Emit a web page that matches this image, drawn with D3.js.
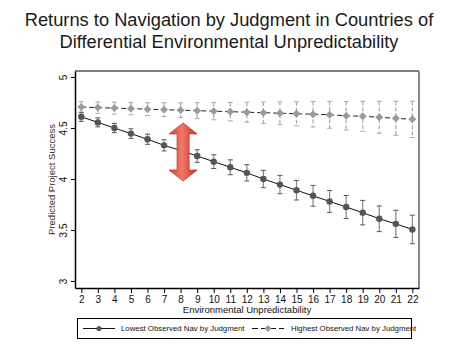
<!DOCTYPE html>
<html>
<head>
<meta charset="utf-8">
<script src="https://cdn.jsdelivr.net/npm/d3@7"></script>
<style>
  body { margin: 0; background: #fff; }
  text { font-family: "Liberation Sans", Arial, sans-serif; }
</style>
</head>
<body>
<svg id="chart"></svg>
<script>
// data
var unpredictability = [2,3,4,5,6,7,8,9,10,11,12,13,14,15,16,17,18,19,20,21,22];
var lowestNav  = [4.61,4.555,4.50,4.445,4.39,4.33,4.28,4.225,4.17,4.115,4.06,4.00,3.945,3.89,3.835,3.78,3.725,3.67,3.61,3.56,3.505];
var lowestErr  = [0.045,0.044,0.045,0.047,0.05,0.055,0.058,0.062,0.067,0.073,0.08,0.085,0.09,0.096,0.102,0.107,0.113,0.12,0.126,0.133,0.14];
var highestNav = [4.705,4.70,4.695,4.69,4.685,4.68,4.675,4.67,4.665,4.66,4.655,4.65,4.645,4.64,4.635,4.63,4.62,4.615,4.605,4.595,4.585];
var highestErr = [0.054,0.056,0.058,0.06,0.063,0.068,0.072,0.078,0.084,0.09,0.098,0.105,0.112,0.118,0.125,0.132,0.14,0.148,0.157,0.167,0.178];
var yTicks = [3, 3.5, 4, 4.5, 5];
var titleLines = ["Returns to Navigation by Judgment in Countries of", "Differential Environmental Unpredictability"];
var legendLabels = ["Lowest Observed Nav by Judgment", "Highest Observed Nav by Judgment"];
// red arrow position, in data units
var arrowAt = {x: 8.15, top: 4.55, bottom: 3.98};

var width = 460, height = 352;
var margin = {top: 71, right: 41, bottom: 64, left: 75};

var svg = d3.select("#chart")
    .attr("width", width)
    .attr("height", height);

var rows = unpredictability.map(function(u, i) {
  return {u: u, lo: lowestNav[i], loE: lowestErr[i], hi: highestNav[i], hiE: highestErr[i]};
});

var x = d3.scaleLinear().domain([1.62, 22.4]).range([margin.left, width - margin.right]);
var y = d3.scaleLinear().domain([2.931, 5.059]).range([height - margin.bottom, margin.top]);

// title
svg.append("g").selectAll("text")
    .data(titleLines)
    .enter().append("text")
    .attr("x", 229)
    .attr("y", function(d, i) { return 26 + i * 22.3; })
    .attr("text-anchor", "middle")
    .style("font-size", "18.3px")
    .style("font-weight", "300")
    .attr("fill", "#1a1a1a")
    .text(function(d) { return d; });

// plot frame: top and right
svg.append("line")
    .attr("x1", margin.left).attr("x2", width - margin.right)
    .attr("y1", margin.top).attr("y2", margin.top)
    .attr("stroke", "#000").attr("stroke-width", 1);
svg.append("line")
    .attr("x1", width - margin.right).attr("x2", width - margin.right)
    .attr("y1", margin.top).attr("y2", height - margin.bottom)
    .attr("stroke", "#888").attr("stroke-width", 2);

// axes
var xAxis = svg.append("g")
    .attr("transform", "translate(0," + (height - margin.bottom) + ")")
    .call(d3.axisBottom(x).tickValues(unpredictability).tickSize(5).tickSizeOuter(0).tickPadding(3));
xAxis.select(".domain").attr("stroke-width", 1.5);
xAxis.selectAll("text").style("font-size", "10px").attr("fill", "#111");

var yAxis = svg.append("g")
    .attr("transform", "translate(" + margin.left + ",0)")
    .call(d3.axisLeft(y).tickValues(yTicks).tickFormat(d3.format("")).tickSize(4).tickSizeOuter(0));
yAxis.select(".domain").attr("stroke-width", 1.5);
yAxis.selectAll(".tick text")
    .attr("x", 0).attr("dy", null)
    .attr("transform", "translate(-8,0) rotate(-90)")
    .attr("text-anchor", "middle")
    .style("font-size", "10px")
    .attr("fill", "#111");

// axis titles
svg.append("text")
    .attr("x", (margin.left + width - margin.right) / 2)
    .attr("y", 313)
    .attr("text-anchor", "middle")
    .style("font-size", "9.5px")
    .attr("fill", "#111")
    .text("Environmental Unpredictability");
svg.append("text")
    .attr("transform", "translate(55," + ((margin.top + height - margin.bottom) / 2) + ") rotate(-90)")
    .attr("text-anchor", "middle")
    .style("font-size", "9.5px")
    .attr("fill", "#3d2c1c")
    .text("Predicted Project Success");

// highest series: dashed
var hiLine = d3.line().x(function(d) { return x(d.u); }).y(function(d) { return y(d.hi); });
svg.append("path")
    .datum(rows)
    .attr("d", hiLine)
    .attr("fill", "none")
    .attr("stroke", "#222")
    .attr("stroke-width", 1)
    .attr("stroke-dasharray", "5,3");

var hiBars = svg.append("g").selectAll("g")
    .data(rows).enter().append("g")
    .attr("stroke", "#aaa");
hiBars.append("line")
    .attr("x1", function(d) { return x(d.u); }).attr("x2", function(d) { return x(d.u); })
    .attr("y1", function(d) { return y(d.hi + d.hiE); }).attr("y2", function(d) { return y(d.hi - d.hiE); })
    .attr("stroke-width", 1.2)
    .attr("stroke-dasharray", "4,2");
hiBars.selectAll(".cap")
    .data(function(d) { return [d.hi + d.hiE, d.hi - d.hiE].map(function(v) { return {u: d.u, v: v}; }); })
    .enter().append("line")
    .attr("x1", function(d) { return x(d.u) - 2.5; }).attr("x2", function(d) { return x(d.u) + 2.5; })
    .attr("y1", function(d) { return y(d.v); }).attr("y2", function(d) { return y(d.v); })
    .attr("stroke-width", 1);

svg.append("g").selectAll("path")
    .data(rows).enter().append("path")
    .attr("d", d3.symbol().type(d3.symbolDiamond2).size(40))
    .attr("transform", function(d) { return "translate(" + x(d.u) + "," + y(d.hi) + ")"; })
    .attr("fill", "#9a9a9a");

// lowest series: solid
var loLine = d3.line().x(function(d) { return x(d.u); }).y(function(d) { return y(d.lo); });
svg.append("path")
    .datum(rows)
    .attr("d", loLine)
    .attr("fill", "none")
    .attr("stroke", "#111")
    .attr("stroke-width", 1);

var loBars = svg.append("g").selectAll("g")
    .data(rows).enter().append("g");
loBars.append("line")
    .attr("x1", function(d) { return x(d.u); }).attr("x2", function(d) { return x(d.u); })
    .attr("y1", function(d) { return y(d.lo + d.loE); }).attr("y2", function(d) { return y(d.lo - d.loE); })
    .attr("stroke", "#888")
    .attr("stroke-width", 1.2);
loBars.selectAll(".cap")
    .data(function(d) { return [d.lo + d.loE, d.lo - d.loE].map(function(v) { return {u: d.u, v: v}; }); })
    .enter().append("line")
    .attr("x1", function(d) { return x(d.u) - 2.5; }).attr("x2", function(d) { return x(d.u) + 2.5; })
    .attr("y1", function(d) { return y(d.v); }).attr("y2", function(d) { return y(d.v); })
    .attr("stroke", "#555")
    .attr("stroke-width", 1);

svg.append("g").selectAll("circle")
    .data(rows).enter().append("circle")
    .attr("cx", function(d) { return x(d.u); })
    .attr("cy", function(d) { return y(d.lo); })
    .attr("r", 3.2)
    .attr("fill", "#555");

// red double arrow
var grad = svg.append("defs").append("linearGradient")
    .attr("id", "arrowGrad").attr("x1", "0%").attr("x2", "100%");
grad.append("stop").attr("offset", "0%").attr("stop-color", "#d8392a");
grad.append("stop").attr("offset", "45%").attr("stop-color", "#ef7a6a");
grad.append("stop").attr("offset", "100%").attr("stop-color", "#c93222");

var ax = x(arrowAt.x), at = y(arrowAt.top), ab = y(arrowAt.bottom);
var headW = 14, shaftW = 6, headH = 11;
var arrowPts = [
  [ax, at], [ax + headW, at + headH], [ax + shaftW, at + headH],
  [ax + shaftW, ab - headH], [ax + headW, ab - headH], [ax, ab],
  [ax - headW, ab - headH], [ax - shaftW, ab - headH], [ax - shaftW, at + headH],
  [ax - headW, at + headH]
];
svg.append("path")
    .attr("d", d3.line()(arrowPts) + "Z")
    .attr("fill", "url(#arrowGrad)")
    .attr("stroke", "#c23a2c")
    .attr("stroke-width", 0.8);

// legend
var legend = svg.append("g");
legend.append("rect")
    .attr("x", 77.5).attr("y", 318.5)
    .attr("width", 334).attr("height", 20)
    .attr("fill", "none").attr("stroke", "#000").attr("stroke-width", 1);

var legendY = 328.5;
legend.append("line")
    .attr("x1", 83).attr("x2", 115).attr("y1", legendY).attr("y2", legendY)
    .attr("stroke", "#111").attr("stroke-width", 1);
legend.append("circle")
    .attr("cx", 99).attr("cy", legendY).attr("r", 2.6).attr("fill", "#555");
legend.append("line")
    .attr("x1", 252).attr("x2", 284).attr("y1", legendY).attr("y2", legendY)
    .attr("stroke", "#111").attr("stroke-width", 1).attr("stroke-dasharray", "6,3");
legend.append("path")
    .attr("d", d3.symbol().type(d3.symbolDiamond2).size(30))
    .attr("transform", "translate(268," + legendY + ")")
    .attr("fill", "#9a9a9a");

legend.selectAll(".lbl")
    .data(legendLabels).enter().append("text")
    .attr("x", function(d, i) { return i === 0 ? 121 : 291; })
    .attr("y", legendY + 2.8)
    .style("font-size", "7.8px")
    .attr("fill", "#111")
    .text(function(d) { return d; });
</script>
</body>
</html>
